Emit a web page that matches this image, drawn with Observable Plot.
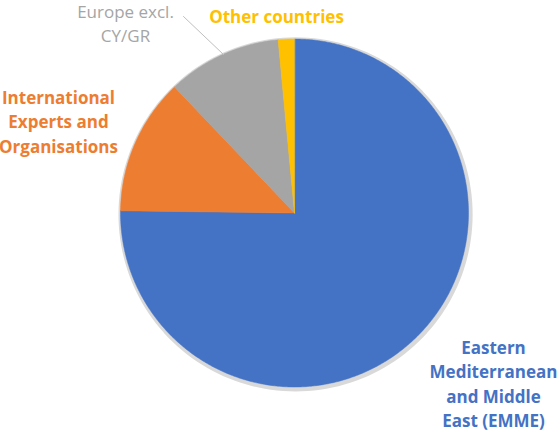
<!DOCTYPE html>
<html>
<head>
<meta charset="utf-8">
<script src="https://cdn.jsdelivr.net/npm/d3@7"></script>
<script src="https://cdn.jsdelivr.net/npm/@observablehq/plot@0.6"></script>
<style>
  html, body { margin: 0; padding: 0; background: #fff; }
  #chart { width: 559px; height: 434px; }
</style>
</head>
<body>
<div id="chart"></div>
<script>
// Data (shares, %), clockwise from 12 o'clock
const categories = [
  "Eastern Mediterranean and Middle East (EMME)",
  "International Experts and Organisations",
  "Europe excl. CY/GR",
  "Other countries"
];
const values = [75.2, 12.7, 10.6, 1.5];
const colors = ["#4472C4", "#ED7D31", "#A5A5A5", "#FFC000"];
const labelLines = [
  ["Eastern", "Mediterranean", "and Middle", "East (EMME)"],
  ["International", "Experts and", "Organisations"],
  ["Europe excl.", "CY/GR"],
  ["Other countries"]
];

// Layout (not data)
const W = 559, H = 434, CX = 294, CY = 212.5, R = 174;
const labelLayout = [
  {x: 493, y: 348, weight: "bold"},
  {x: 58, y: 98, weight: "bold"},
  {x: 125, y: 12, weight: "normal"},
  {x: 276, y: 17, weight: "bold"}
];
const lineH = 24.5;

const arcs = d3.pie().sort(null).value(d => d)(values);
const pts = [];
arcs.forEach((a, i) => {
  const n = Math.max(4, Math.ceil((a.endAngle - a.startAngle) / 0.01));
  pts.push({k: i, x: 0, y: 0});
  for (let j = 0; j <= n; j++) {
    const t = a.startAngle + (a.endAngle - a.startAngle) * j / n;
    pts.push({k: i, x: Math.sin(t), y: Math.cos(t)});
  }
});
const shadow = d3.range(0, 361, 2).map(d => ({x: 1.012 * Math.sin(d * Math.PI / 180) + 0.006, y: 1.012 * Math.cos(d * Math.PI / 180) - 0.008}));

const xDom = [-CX / R, (W - CX) / R];
const yDom = [-(H - CY) / R, CY / R];

const labelRows = [];
labelLines.forEach((lines, i) => {
  lines.forEach((t, j) => {
    const L = labelLayout[i];
    labelRows.push({
      text: t,
      x: (L.x - CX) / R,
      y: (CY - (L.y + j * lineH)) / R,
      color: colors[i],
      weight: L.weight
    });
  });
});

const leader = [
  {x: (183 - CX) / R, y: (CY - 16) / R},
  {x: (223 - CX) / R, y: (CY - 54) / R}
];

const plot = Plot.plot({
  width: W, height: H,
  margin: 0,
  x: {domain: xDom, axis: null},
  y: {domain: yDom, axis: null},
  style: {background: "#fff"},
  marks: [
    Plot.line(shadow, {x: "x", y: "y", fill: "#d9d9d9", stroke: "#d9d9d9", strokeWidth: 2, curve: "linear-closed", style: "filter: blur(1.5px)"}),
    Plot.line(pts, {x: "x", y: "y", z: "k", fill: d => colors[d.k], stroke: d => colors[d.k], strokeWidth: 0.5, curve: "linear-closed"}),
    Plot.line(leader, {x: "x", y: "y", stroke: "#bfbfbf", strokeWidth: 1}),
    Plot.text(labelRows.filter(d => d.weight === "bold"), {
      x: "x", y: "y", text: "text", fill: "color",
      fontSize: 17, fontWeight: "bold", fontFamily: "'Open Sans', sans-serif",
      textAnchor: "middle", lineAnchor: "middle"
    }),
    Plot.text(labelRows.filter(d => d.weight === "normal"), {
      x: "x", y: "y", text: "text", fill: "color",
      fontSize: 17, fontWeight: "normal", fontFamily: "'Open Sans', sans-serif",
      textAnchor: "middle", lineAnchor: "middle", style: "letter-spacing: 1px"
    })
  ]
});
document.getElementById("chart").appendChild(plot);
</script>
</body>
</html>
